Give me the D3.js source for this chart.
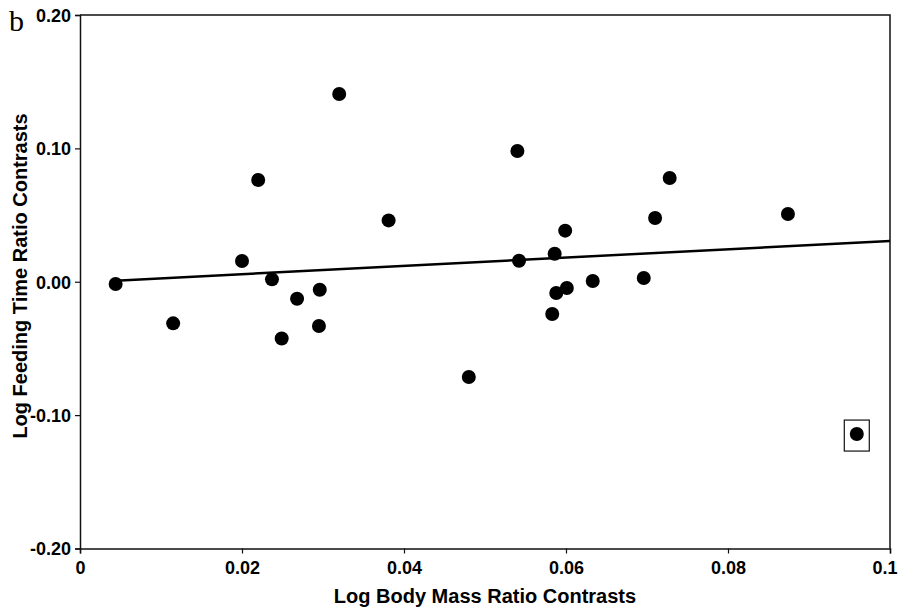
<!DOCTYPE html>
<html>
<head>
<meta charset="utf-8">
<script src="https://cdn.jsdelivr.net/npm/d3@7"></script>
<style>
  body { margin: 0; background: #fff; }
  svg { display: block; }
</style>
</head>
<body>
<div id="chart"></div>
<script>
// contrasts
const bodyMassContrasts = [0.0044, 0.0115, 0.0200, 0.0220, 0.0237, 0.0249, 0.0268, 0.0295, 0.0296, 0.0320,
  0.0381, 0.0480, 0.0540, 0.0542, 0.0586, 0.0588, 0.0583, 0.0599, 0.0601, 0.0633,
  0.0696, 0.0710, 0.0728, 0.0874, 0.0959];
const feedingTimeContrasts = [-0.0017, -0.0312, 0.0156, 0.0763, 0.0018, -0.0425, -0.0128, -0.0332, -0.0060, 0.1408,
  0.0460, -0.0714, 0.0980, 0.0158, 0.0210, -0.0084, -0.0242, 0.0383, -0.0047, 0.0006,
  0.0028, 0.0478, 0.0778, 0.0508, -0.1142];
const outlierIndex = 24; // the boxed point

// fitted line, start and end
const fitX = [0.0044, 0.1];
const fitY = [0.0008, 0.0306];

const xTicks = [0, 0.02, 0.04, 0.06, 0.08, 0.1];
const xTickLabels = ['0', '0.02', '0.04', '0.06', '0.08', '0.1'];
const yTicks = [-0.2, -0.1, 0, 0.1, 0.2];
const yTickLabels = ['-0.20', '-0.10', '0.00', '0.10', '0.20'];

const width = 898, height = 609;
const margin = { top: 15, right: 8, bottom: 60.5, left: 80 };
const w = width - margin.left - margin.right;
const h = height - margin.top - margin.bottom;
const sans = '"Liberation Sans", Arial, sans-serif';

const svg = d3.select('#chart').append('svg')
  .attr('width', width)
  .attr('height', height);

const g = svg.append('g')
  .attr('transform', 'translate(' + margin.left + ',' + margin.top + ')');

const x = d3.scaleLinear().domain([0, 0.1]).range([0, w]);
const y = d3.scaleLinear().domain([-0.2, 0.2]).range([h, 0]);

// frame (top + right)
g.append('path')
  .attr('d', `M0,0H${w}V${h}`)
  .attr('fill', 'none')
  .attr('stroke', '#111')
  .attr('stroke-width', 1.5);

const xAxis = g.append('g')
  .attr('transform', 'translate(0,' + h + ')')
  .call(d3.axisBottom(x).tickValues(xTicks).tickSize(5).tickPadding(8)
    .tickFormat((d, i) => xTickLabels[i]));

const yAxis = g.append('g')
  .call(d3.axisLeft(y).tickValues(yTicks).tickSize(5).tickPadding(4)
    .tickFormat((d, i) => yTickLabels[i]));

[xAxis, yAxis].forEach(ax => {
  ax.select('.domain').attr('stroke', '#111').attr('stroke-width', 1.5);
  ax.selectAll('.tick line').attr('stroke', '#111').attr('stroke-width', 1.2);
  ax.selectAll('.tick text')
    .attr('fill', '#000')
    .style('font-family', sans)
    .style('font-weight', 'bold')
    .style('font-size', '18px');
});
yAxis.selectAll('.tick text').attr('dy', '0.35em');
// last x label sits against the page edge
xAxis.selectAll('.tick text').filter((d, i) => i === xTicks.length - 1)
  .attr('text-anchor', 'end')
  .attr('dx', 7);

// regression line
g.append('line')
  .attr('x1', x(fitX[0])).attr('y1', y(fitY[0]))
  .attr('x2', x(fitX[1])).attr('y2', y(fitY[1]))
  .attr('stroke', '#000')
  .attr('stroke-width', 2.5);

// points
g.append('g')
  .selectAll('circle')
  .data(bodyMassContrasts)
  .join('circle')
  .attr('cx', d => x(d))
  .attr('cy', (d, i) => y(feedingTimeContrasts[i]))
  .attr('r', 7)
  .attr('fill', '#000');

// box round the outlier
g.append('rect')
  .attr('x', x(bodyMassContrasts[outlierIndex]) - 12.5)
  .attr('y', y(feedingTimeContrasts[outlierIndex]) - 14)
  .attr('width', 25)
  .attr('height', 31)
  .attr('fill', 'none')
  .attr('stroke', '#111')
  .attr('stroke-width', 1.2);

// axis titles
svg.append('text')
  .attr('x', margin.left + w / 2)
  .attr('y', 603)
  .attr('text-anchor', 'middle')
  .style('font-family', sans)
  .style('font-weight', 'bold')
  .style('font-size', '20px')
  .text('Log Body Mass Ratio Contrasts');

svg.append('text')
  .attr('transform', 'translate(27,276) rotate(-90)')
  .attr('text-anchor', 'middle')
  .style('font-family', sans)
  .style('font-weight', 'bold')
  .style('font-size', '20px')
  .text('Log Feeding Time Ratio Contrasts');

// panel letter
svg.append('text')
  .attr('x', 9)
  .attr('y', 31)
  .style('font-family', '"Liberation Serif", "Times New Roman", serif')
  .style('font-size', '30px')
  .text('b');
</script>
</body>
</html>
